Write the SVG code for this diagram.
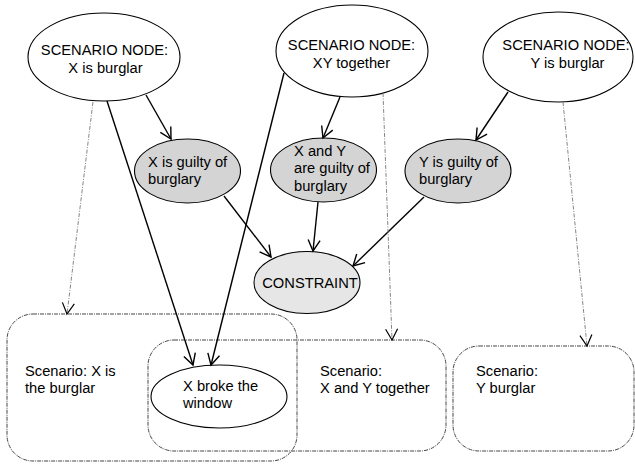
<svg xmlns="http://www.w3.org/2000/svg" width="635" height="465" viewBox="0 0 635 465">
<defs>
<style>
text{font-family:"Liberation Sans",Arial,sans-serif;font-size:14.7px;fill:#000}
.c{text-anchor:middle}
.node{fill:#fff;stroke:#000;stroke-width:1.1}
.grey{fill:#d4d4d4;stroke:#000;stroke-width:1.1}
.light{fill:#e6e6e6;stroke:#000;stroke-width:1.1}
.box{fill:none;stroke:#444;stroke-width:1;stroke-dasharray:4 1 1 1}
.solid{stroke:#000;stroke-width:1.4;fill:none;marker-end:url(#arr)}
.dash{stroke:#777;stroke-width:0.9;fill:none;stroke-dasharray:4 1.5 1 1.5;marker-end:url(#arr2)}
</style>
<marker id="arr" markerUnits="userSpaceOnUse" markerWidth="14" markerHeight="14" refX="11" refY="6" orient="auto" overflow="visible">
<path d="M0,0 L11,6 L0,12" fill="none" stroke="#000" stroke-width="1.4"/>
</marker>
<marker id="arr2" markerUnits="userSpaceOnUse" markerWidth="14" markerHeight="14" refX="11" refY="6" orient="auto" overflow="visible">
<path d="M0,0 L11,6 L0,12" fill="none" stroke="#000" stroke-width="1.2"/>
</marker>
</defs>

<g id="scenario-x-box">
<rect class="box" x="7" y="314" width="290" height="147" rx="26" ry="26"/>
<text x="25" y="376">Scenario: X is</text>
<text x="25" y="393">the burglar</text>
</g>
<g id="scenario-xy-box">
<rect class="box" x="148" y="340" width="298" height="111" rx="26" ry="26"/>
<text x="320" y="376">Scenario:</text>
<text x="320" y="393">X and Y together</text>
</g>
<g id="scenario-y-box">
<rect class="box" x="453" y="346" width="181" height="105" rx="26" ry="26"/>
<text x="476" y="376">Scenario:</text>
<text x="476" y="393">Y burglar</text>
</g>

<g id="sn-x">
<ellipse class="node" cx="104" cy="57" rx="76" ry="44"/>
<text class="c" x="104.5" y="55">SCENARIO NODE:</text>
<text class="c" x="105.5" y="73">X is burglar</text>
</g>
<g id="sn-xy">
<ellipse class="node" cx="352" cy="51" rx="76" ry="46"/>
<text class="c" x="351.5" y="50">SCENARIO NODE:</text>
<text class="c" x="351.5" y="68">XY together</text>
</g>
<g id="sn-y">
<ellipse class="node" cx="558" cy="57" rx="75" ry="45"/>
<text class="c" x="566" y="50">SCENARIO NODE:</text>
<text class="c" x="567.5" y="68">Y is burglar</text>
</g>

<g id="x-guilty">
<ellipse class="grey" cx="187.5" cy="171" rx="53" ry="32"/>
<text x="148" y="167">X is guilty of</text>
<text x="148" y="184">burglary</text>
</g>
<g id="xy-guilty">
<ellipse class="grey" cx="323.5" cy="170" rx="53" ry="32"/>
<text x="294" y="156">X and Y</text>
<text x="294" y="173">are guilty of</text>
<text x="294" y="191">burglary</text>
</g>
<g id="y-guilty">
<ellipse class="grey" cx="458" cy="171" rx="53" ry="32"/>
<text x="419" y="167">Y is guilty of</text>
<text x="419" y="184">burglary</text>
</g>
<g id="constraint">
<ellipse class="light" cx="307" cy="282.5" rx="53" ry="31"/>
<text class="c" x="310" y="288">CONSTRAINT</text>
</g>
<g id="broke-window">
<ellipse class="node" cx="219" cy="396.5" rx="68" ry="31.5"/>
<text x="183" y="391">X broke the</text>
<text x="183" y="408">window</text>
</g>

<g id="connectors">
<line class="solid" x1="146" y1="95" x2="171" y2="139"/>
<line class="solid" x1="107" y1="101" x2="193" y2="365"/>
<line class="solid" x1="284" y1="73" x2="211" y2="365"/>
<line class="solid" x1="340" y1="97" x2="323" y2="138"/>
<line class="solid" x1="508" y1="92" x2="476" y2="140"/>
<line class="solid" x1="224" y1="196" x2="271" y2="257"/>
<line class="solid" x1="318" y1="202" x2="313" y2="251"/>
<line class="solid" x1="424" y1="197" x2="353" y2="266"/>
<line class="dash" x1="93" y1="102" x2="67" y2="314"/>
<line class="dash" x1="383" y1="93" x2="392" y2="340"/>
<line class="dash" x1="563" y1="102" x2="587" y2="346"/>
</g>
</svg>
